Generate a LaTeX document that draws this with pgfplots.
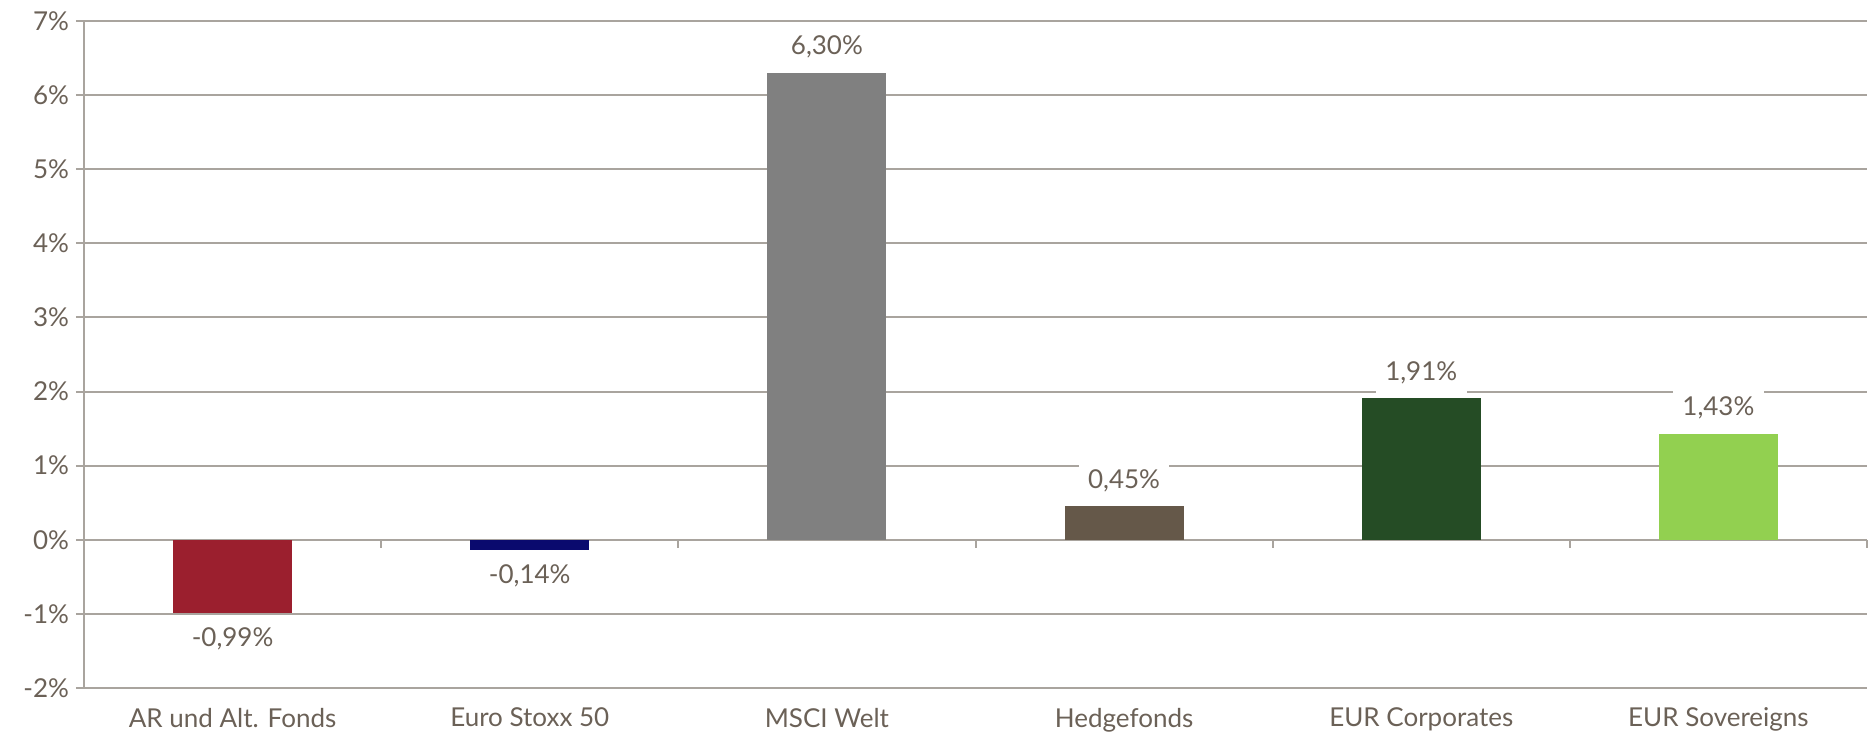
\documentclass[border=0pt]{standalone}
\usepackage{fontspec}
\setmainfont{Lato}
\usepackage{pgfplots}
\pgfplotsset{compat=1.18}

\definecolor{txt}{HTML}{6B6157}
\definecolor{gridc}{HTML}{A9A49E}
\definecolor{cRed}{HTML}{9B1F2E}
\definecolor{cNavy}{HTML}{0A0A6E}
\definecolor{cGray}{HTML}{808080}
\definecolor{cBrown}{HTML}{655849}
\definecolor{cDkGreen}{HTML}{254C25}
\definecolor{cLtGreen}{HTML}{92D050}

\begin{document}
\begin{tikzpicture}
% overall page frame
\path[use as bounding box] (-42pt,-23.5pt) rectangle (892.5pt,344pt);
\begin{axis}[
  at={(0,0)}, anchor=south west,
  scale only axis,
  width=891.5pt, height=333.5pt,
  xmin=-0.5, xmax=5.5,
  ymin=-2, ymax=7,
  axis x line=middle,
  axis y line=left,
  axis line style={gridc, line width=1pt, -},
  xtick={0,...,5},
  xticklabels={AR und Alt. Fonds, Euro Stoxx 50, MSCI Welt, Hedgefonds, EUR Corporates, EUR Sovereigns},
  major x tick style={draw=none},
  minor xtick={0.5,1.5,...,5.5},
  minor x tick style={gridc, line width=1pt},
  xticklabel shift=76.5pt,
  ytick={-2,...,7},
  yticklabel={\pgfmathprintnumber{\tick}\%},
  y tick style={gridc, line width=1pt},
  tick align=outside,
  major tick length=4pt,
  minor tick length=4pt,
  ymajorgrids,
  grid style={gridc, line width=1pt},
  tick label style={font=\fontsize{13}{15}\selectfont, text=txt},
  /pgf/number format/assume math mode=true,
  ybar, bar width=0.4, bar shift=0pt,
  visualization depends on={y \as \rawy},
  nodes near coords={\pgfmathprintnumber[fixed, fixed zerofill, precision=2, use comma]{\pgfplotspointmeta}\%},
  every node near coord/.append style={font=\fontsize{13}{15}\selectfont, text=txt, fill=white,
    inner xsep=4.7pt, inner ysep=5pt, yshift={(\rawy>0 ? 2 : -2)*1pt}},
  clip=false,
]
\addplot[draw=none, fill=cRed]     coordinates {(0,-0.99)};
\addplot[draw=none, fill=cNavy]    coordinates {(1,-0.14)};
\addplot[draw=none, fill=cGray]    coordinates {(2,6.30)};
\addplot[draw=none, fill=cBrown]   coordinates {(3,0.45)};
\addplot[draw=none, fill=cDkGreen] coordinates {(4,1.91)};
\addplot[draw=none, fill=cLtGreen] coordinates {(5,1.43)};
\end{axis}
\end{tikzpicture}
\end{document}
